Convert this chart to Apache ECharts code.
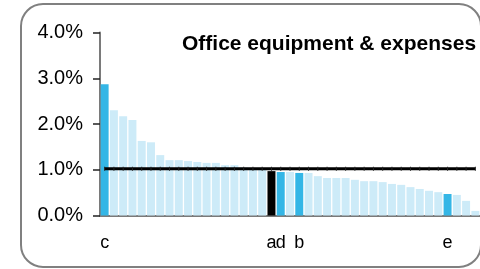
<!DOCTYPE html>
<html>
<head>
<meta charset="utf-8">
<script src="https://cdn.jsdelivr.net/npm/echarts@6/dist/echarts.min.js"></script>
<style>html,body{margin:0;padding:0;background:#fff;}#c{width:480px;height:269px;}</style>
</head>
<body>
<div id="c"></div>
<script>
// Category labels (only a few are labelled)
var categories = ['c','','','','','','','','','','','','','','','','','','a','d','','b','','','','','','','','','','','','','','','','e','','',''];
// Bar values, percent
var values = [2.87,2.30,2.17,2.09,1.63,1.60,1.32,1.21,1.21,1.19,1.17,1.15,1.15,1.10,1.10,1.05,1.04,1.02,0.97,0.95,0.95,0.93,0.93,0.86,0.82,0.82,0.82,0.78,0.75,0.75,0.73,0.69,0.67,0.62,0.58,0.54,0.51,0.47,0.45,0.32,0.10];
// Bar kind: 0 = light, 1 = highlighted, 2 = selected
var kinds = [1,0,0,0,0,0,0,0,0,0,0,0,0,0,0,0,0,0,2,1,0,1,0,0,0,0,0,0,0,0,0,0,0,0,0,0,0,1,0,0,0];
// Reference (average) line
var avgLine = [1.02,1.02,1.02,1.02,1.02,1.02,1.02,1.02,1.02,1.02,1.02,1.02,1.02,1.02,1.02,1.02,1.02,1.02,1.02,1.02,1.02,1.02,1.02,1.02,1.02,1.02,1.02,1.02,1.02,1.02,1.02,1.02,1.02,1.02,1.02,1.02,1.02,1.02,1.02,1.02,1.02];
var yTicks = [0,1,2,3,4];
var titleText = 'Office equipment & expenses';

var kindColors = ['#cdebf8', '#34b6e6', '#000000'];
var chart = echarts.init(document.getElementById('c'), null, {renderer: 'canvas'});
chart.setOption({
  animation: false,
  title: {
    text: titleText, left: 177, top: 29,
    textStyle: {fontFamily: 'Liberation Sans, Arial, sans-serif', fontWeight: 'bold', fontSize: 21, color: '#000'}
  },
  graphic: [{
    type: 'rect', shape: {x: 21, y: 4, width: 460, height: 263, r: 22},
    style: {fill: 'none', stroke: '#808080', lineWidth: 2}, silent: true, z: 0
  }],
  grid: {left: 100, top: 32.5, width: 383, height: 183, containLabel: false},
  xAxis: {
    type: 'category', data: categories,
    axisLine: {lineStyle: {color: '#7a7a7a', width: 2}},
    axisTick: {show: false},
    axisLabel: {interval: 0, margin: 19, fontSize: 18, color: '#000', fontFamily: 'Liberation Sans, Arial, sans-serif'}
  },
  yAxis: {
    type: 'value', min: yTicks[0], max: yTicks[yTicks.length - 1], interval: 1,
    splitLine: {show: false},
    axisLine: {show: true, lineStyle: {color: '#7a7a7a', width: 2}},
    axisTick: {show: true, length: 7, lineStyle: {color: '#222', width: 1.5}},
    axisLabel: {margin: 17, fontSize: 20, color: '#000', fontFamily: 'Liberation Sans, Arial, sans-serif',
      formatter: function (v) { return v.toFixed(1) + '%'; }}
  },
  series: [{
    type: 'bar', barCategoryGap: '14%',
    data: values.map(function (v, i) { return {value: v, itemStyle: {color: kindColors[kinds[i]]}}; })
  }, {
    type: 'line', data: avgLine, z: 5,
    lineStyle: {color: '#000', width: 3},
    symbol: 'rect', symbolSize: [1, 4], itemStyle: {color: '#222'}
  }]
});
</script>
</body>
</html>
